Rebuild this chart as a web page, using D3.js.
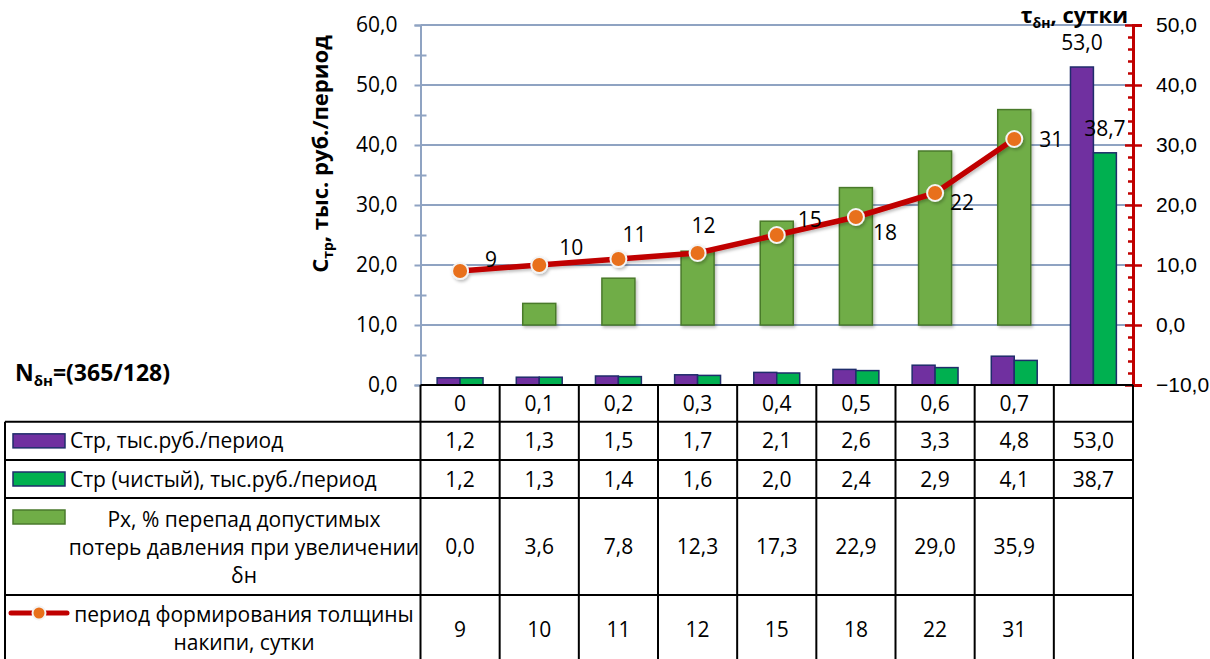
<!DOCTYPE html>
<html>
<head>
<meta charset="utf-8">
<script src="https://cdn.jsdelivr.net/npm/d3@7"></script>
<style>
  html, body { margin: 0; padding: 0; background: #fff; }
  svg { display: block; font-family: "Open Sans", "Noto Sans", sans-serif; }
</style>
</head>
<body>
<svg id="chart" width="1210" height="659"></svg>
<script>
// ---- data ----
const categories   = ["0", "0,1", "0,2", "0,3", "0,4", "0,5", "0,6", "0,7", ""];
const costTotal    = [1.2, 1.3, 1.5, 1.7, 2.1, 2.6, 3.3, 4.8, 53.0];
const costNet      = [1.2, 1.3, 1.4, 1.6, 2.0, 2.4, 2.9, 4.1, 38.7];
const pressureDrop = [0.0, 3.6, 7.8, 12.3, 17.3, 22.9, 29.0, 35.9, null];
const scalePeriod  = [9, 10, 11, 12, 15, 18, 22, 31, null];
const leftTicks    = [0, 10, 20, 30, 40, 50, 60];
const rightTicks   = [-10, 0, 10, 20, 30, 40, 50];
const seriesLabels = [
  ["Стр, тыс.руб./период"],
  ["Стр (чистый), тыс.руб./период"],
  ["Рх, % перепад допустимых", "потерь давления при увеличении", "δн"],
  ["период формирования толщины", "накипи, сутки"]
];
// category whose cost bars carry value labels
const labelledCategory = 8;

// ---- layout ----
const plot = { left: 420.5, right: 1133, top: 25, bottom: 385 };
const tableRows = [385, 421.7, 460, 498, 595, 663];
const tableLeft = 5;
const periodLabelNudge = [[25, -4], [20, -10], [4, -17], [-6, -20], [21, -8], [17, 23], [15, 17], [25, 8]];

const colors = {
  total: "#7030A0", net: "#00B050", px: "#70AD47", pxEdge: "#4A7A2C",
  barEdge: "#1F2D6B", line: "#C00000", marker: "#E8701A",
  grid: "#8FA3C2", secAxis: "#C00000", table: "#000"
};

const locale = d3.formatLocale({ decimal: ",", thousands: " ", grouping: [3], currency: ["", ""] });
const f1 = locale.format(".1f");
const f0 = locale.format("d");

const svg = d3.select("#chart");
const fontSize = 21;

// shadow used by the secondary-axis series
const defs = svg.append("defs");
const sh = defs.append("filter").attr("id", "soft").attr("x", "-20%").attr("y", "-20%")
  .attr("width", "150%").attr("height", "150%");
sh.append("feDropShadow").attr("dx", 1.5).attr("dy", 2).attr("stdDeviation", 1.5)
  .attr("flood-color", "#000").attr("flood-opacity", 0.25);

// ---- scales ----
const idx = d3.range(categories.length);
const x = d3.scaleBand().domain(idx).range([plot.left, plot.right]).paddingInner(0.42).paddingOuter(0.21);
const xPair = d3.scaleBand().domain(["total", "net"]).range([0, x.bandwidth()]);
const xPx = d3.scaleBand().domain(idx).range([plot.left, plot.right]).paddingInner(0.583).paddingOuter(0.2915);
const yL = d3.scaleLinear().domain([0, 60]).range([plot.bottom, plot.top]);
const yR = d3.scaleLinear().domain([-10, 50]).range([plot.bottom, plot.top]);
const step = x.step();
const colLeft = i => x(i) - step * x.paddingOuter();
const colCenter = i => x(i) + x.bandwidth() / 2;

// ---- gridlines ----
svg.append("g").selectAll("line").data(leftTicks.filter(t => t > 0)).join("line")
  .attr("x1", plot.left).attr("x2", plot.right)
  .attr("y1", d => yL(d)).attr("y2", d => yL(d))
  .attr("stroke", colors.grid).attr("stroke-width", 2);

// ---- left axis ----
const axL = svg.append("g").attr("transform", `translate(${plot.left},0)`)
  .call(d3.axisLeft(yL).tickValues(leftTicks).tickSize(6).tickPadding(17).tickFormat(f1));
axL.select(".domain").attr("stroke", colors.grid).attr("stroke-width", 2);
axL.selectAll(".tick line").attr("stroke", colors.grid).attr("stroke-width", 2);
axL.selectAll(".tick text").attr("font-size", fontSize).attr("fill", "#000")
  .attr("font-family", "Open Sans");
svg.append("g").attr("transform", `translate(${plot.left},0)`)
  .call(d3.axisRight(yL).tickValues(d3.range(5, 60, 10)).tickSize(6).tickFormat(""))
  .call(g => g.select(".domain").remove())
  .selectAll(".tick line").attr("x1", -6).attr("stroke", colors.grid).attr("stroke-width", 2);

// ---- secondary series: pressure drop bars ----
svg.append("g").attr("filter", "url(#soft)").selectAll("rect")
  .data(pressureDrop.map((v, i) => ({ v, i })).filter(d => d.v !== null)).join("rect")
  .attr("x", d => xPx(d.i)).attr("width", xPx.bandwidth())
  .attr("y", d => yR(d.v)).attr("height", d => yR(0) - yR(d.v))
  .attr("fill", colors.px).attr("stroke", colors.pxEdge).attr("stroke-width", 1.5)
  .attr("visibility", d => d.v > 0 ? "visible" : "hidden");

// ---- primary series: cost bars ----
const pairs = idx.map(i => [
  { key: "total", v: costTotal[i], i },
  { key: "net", v: costNet[i], i }
]).flat();
svg.append("g").selectAll("rect").data(pairs).join("rect")
  .attr("x", d => x(d.i) + xPair(d.key)).attr("width", xPair.bandwidth())
  .attr("y", d => yL(d.v)).attr("height", d => yL(0) - yL(d.v))
  .attr("fill", d => colors[d.key]).attr("stroke", colors.barEdge).attr("stroke-width", 1.5);

svg.append("g").selectAll("text").data(pairs.filter(d => d.i === labelledCategory)).join("text")
  .attr("x", d => x(d.i) + xPair(d.key) + xPair.bandwidth() / 2)
  .attr("y", d => yL(d.v) - 17)
  .attr("text-anchor", "middle").attr("font-size", fontSize).text(d => f1(d.v));

// ---- secondary axis ----
const axR = svg.append("g").attr("transform", `translate(${plot.right},0)`)
  .call(d3.axisRight(yR).tickValues(rightTicks).tickSize(9).tickPadding(14).tickFormat(f1));
axR.select(".domain").attr("stroke", colors.secAxis).attr("stroke-width", 3);
axR.selectAll(".tick line").attr("x1", -8).attr("stroke", colors.secAxis).attr("stroke-width", 2.5);
axR.selectAll(".tick text").attr("font-size", fontSize).attr("fill", "#000");
svg.append("g").attr("transform", `translate(${plot.right},0)`)
  .call(d3.axisLeft(yR).tickValues(d3.range(-10, 51, 2).filter(v => v % 10 !== 0)).tickSize(5).tickFormat(""))
  .call(g => g.select(".domain").remove())
  .selectAll(".tick line").attr("x2", -5).attr("x1", 1).attr("stroke", colors.secAxis).attr("stroke-width", 2.5);

// ---- line: scale formation period ----
const linePts = scalePeriod.map((v, i) => ({ v, i })).filter(d => d.v !== null);
const lineGen = d3.line().x(d => colCenter(d.i)).y(d => yR(d.v));
const lg = svg.append("g").attr("filter", "url(#soft)");
lg.append("path").datum(linePts).attr("d", lineGen)
  .attr("fill", "none").attr("stroke", colors.line).attr("stroke-width", 5.5).attr("stroke-linejoin", "round");
lg.selectAll("circle").data(linePts).join("circle")
  .attr("cx", d => colCenter(d.i)).attr("cy", d => yR(d.v)).attr("r", 8)
  .attr("fill", colors.marker).attr("stroke", "#F4F4F4").attr("stroke-width", 2);
svg.append("g").selectAll("text").data(linePts).join("text")
  .attr("x", d => colCenter(d.i) + periodLabelNudge[d.i][0])
  .attr("y", d => yR(d.v) + periodLabelNudge[d.i][1])
  .attr("font-size", fontSize).text(d => f0(d.v));

// ---- axis titles ----
const tl = svg.append("text").attr("transform", "translate(328,154) rotate(-90)")
  .attr("text-anchor", "middle").attr("font-weight", "bold").attr("font-size", 22);
tl.append("tspan").text("C");
tl.append("tspan").attr("font-size", 14).attr("dy", 5).text("тр");
tl.append("tspan").attr("dy", -5).text(", тыс. руб./период");

const tr = svg.append("text").attr("x", 1128).attr("y", 23)
  .attr("text-anchor", "end").attr("font-weight", "bold").attr("font-size", 22);
tr.append("tspan").text("τ");
tr.append("tspan").attr("font-size", 14).attr("dy", 5).text("δн");
tr.append("tspan").attr("dy", -5).text(", сутки");

const tn = svg.append("text").attr("x", 15).attr("y", 381)
  .attr("font-weight", "bold").attr("font-size", 23);
tn.append("tspan").text("N");
tn.append("tspan").attr("font-size", 15).attr("dy", 5).text("δн");
tn.append("tspan").attr("dy", -5).text("=(365/128)");

// ---- data table ----
const tg = svg.append("g");
const nCols = categories.length;
const tableRight = colLeft(0) + step * nCols;
// horizontal rules
tg.append("line").attr("x1", colLeft(0)).attr("x2", tableRight)
  .attr("y1", tableRows[0]).attr("y2", tableRows[0]);
tg.selectAll("line.h").data(tableRows.slice(1, -1)).join("line").attr("class", "h")
  .attr("x1", tableLeft).attr("x2", tableRight).attr("y1", d => d).attr("y2", d => d);
// vertical rules
tg.selectAll("line.v").data(d3.range(nCols + 1)).join("line").attr("class", "v")
  .attr("x1", i => colLeft(0) + step * i).attr("x2", i => colLeft(0) + step * i)
  .attr("y1", tableRows[0]).attr("y2", 659);
tg.append("line").attr("x1", tableLeft).attr("x2", tableLeft)
  .attr("y1", tableRows[1]).attr("y2", 659);
tg.selectAll("line").attr("stroke", colors.table).attr("stroke-width", 2);

// category header row
tg.append("g").selectAll("text").data(idx).join("text")
  .attr("x", i => colCenter(i)).attr("y", (tableRows[0] + tableRows[1]) / 2 + 7.5)
  .attr("text-anchor", "middle").attr("font-size", fontSize).text(i => categories[i]);

const rowValues = [costTotal, costNet, pressureDrop, scalePeriod];
const rowFormats = [f1, f1, f1, f0];
rowValues.forEach((vals, r) => {
  const yc = (tableRows[r + 1] + tableRows[r + 2]) / 2;
  tg.append("g").selectAll("text").data(vals.map((v, i) => ({ v, i }))).join("text")
    .attr("x", d => colCenter(d.i)).attr("y", yc + 7.5)
    .attr("text-anchor", "middle").attr("font-size", fontSize)
    .text(d => d.v === null ? "" : rowFormats[r](d.v));
});

// row headers with legend keys
const labelX = 70, labelCenter = 244;
seriesLabels.forEach((lines, r) => {
  const y0 = tableRows[r + 1], y1 = tableRows[r + 2];
  const yc = (y0 + y1) / 2;
  const g = tg.append("g");
  if (lines.length === 1) {
    g.append("rect").attr("x", 13).attr("y", yc - 7).attr("width", 52).attr("height", 14)
      .attr("fill", r === 0 ? colors.total : colors.net).attr("stroke", colors.barEdge).attr("stroke-width", 1.5);
    g.append("text").attr("x", labelX).attr("y", yc + 7.5).attr("font-size", fontSize).text(lines[0]);
  } else {
    const lh = 28;
    const first = r === 2 ? y0 + 29 : y0 + 27;
    if (r === 2) {
      g.append("rect").attr("x", 13).attr("y", y0 + 12).attr("width", 52).attr("height", 14)
        .attr("fill", colors.px).attr("stroke", colors.pxEdge).attr("stroke-width", 1.5);
    } else {
      g.append("line").attr("x1", 11).attr("x2", 67).attr("y1", y0 + 18).attr("y2", y0 + 18)
        .attr("stroke", colors.line).attr("stroke-width", 5).attr("stroke-linecap", "round");
      g.append("circle").attr("cx", 39).attr("cy", y0 + 18).attr("r", 6.5)
        .attr("fill", colors.marker).attr("stroke", "#F4F4F4").attr("stroke-width", 2);
    }
    g.selectAll("text").data(lines).join("text")
      .attr("x", labelCenter).attr("y", (d, k) => first + k * lh)
      .attr("text-anchor", "middle").attr("font-size", fontSize).text(d => d);
  }
});
</script>
</body>
</html>
